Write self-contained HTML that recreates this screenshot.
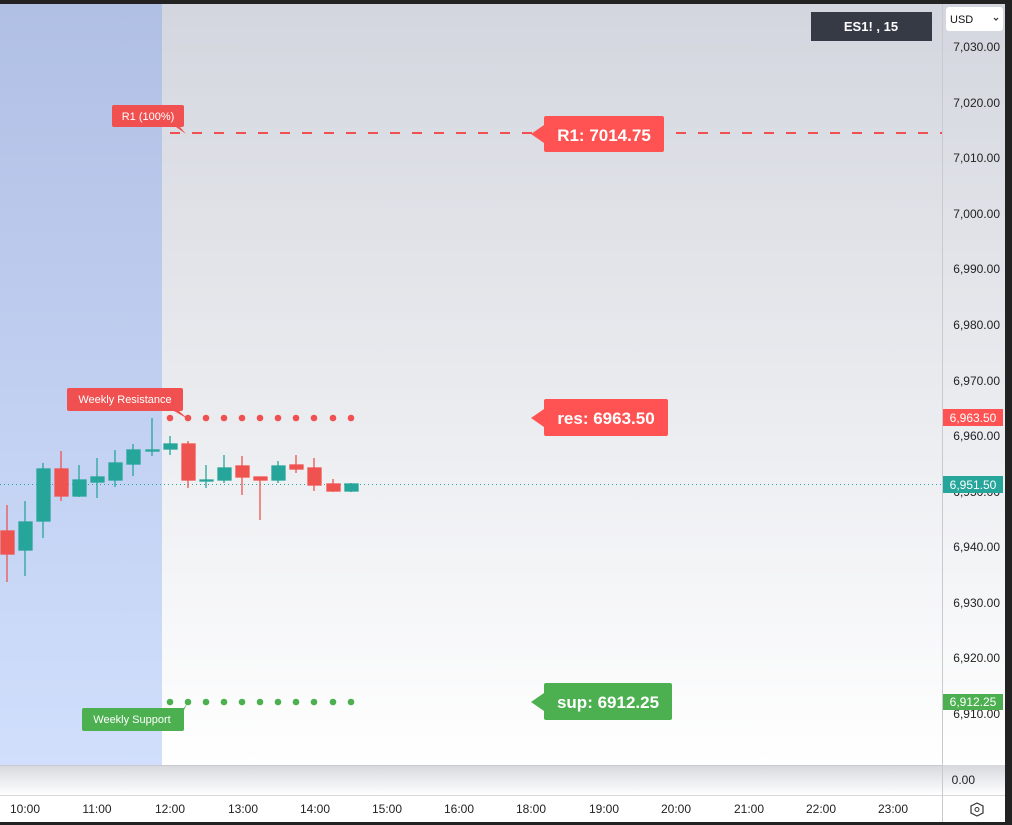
<!DOCTYPE html>
<html><head><meta charset="utf-8"><style>
html,body{margin:0;padding:0;background:#1e1e1e;}
svg{display:block;font-family:"Liberation Sans",sans-serif;}
</style></head><body>
<svg width="1012" height="825" xmlns="http://www.w3.org/2000/svg">
<defs>
<linearGradient id="gb" x1="0" y1="0" x2="0" y2="1"><stop offset="0" stop-color="#b0bfe4"/><stop offset="1" stop-color="#d1dffd"/></linearGradient>
<linearGradient id="gw" x1="0" y1="0" x2="0" y2="1"><stop offset="0" stop-color="#d3d6de"/><stop offset="1" stop-color="#ffffff"/></linearGradient>
<linearGradient id="gs" x1="0" y1="0" x2="0" y2="1"><stop offset="0" stop-color="#d6d8de"/><stop offset="1" stop-color="#ffffff"/></linearGradient>
</defs>
<rect x="0" y="0" width="1012" height="825" fill="#222"/>
<rect x="0" y="4" width="1005" height="818" fill="#fff"/>
<rect x="0" y="4" width="942" height="761" fill="url(#gw)"/>
<rect x="0" y="4" width="162" height="761" fill="url(#gb)"/>
<rect x="942" y="4" width="63" height="761" fill="url(#gw)"/>
<rect x="0" y="765" width="1005" height="30" fill="url(#gs)"/>
<line x1="0" y1="795.5" x2="1005" y2="795.5" stroke="#d8d8dc"/>
<line x1="942.5" y1="4" x2="942.5" y2="822" stroke="#c8cad0"/>
<line x1="0" y1="765.5" x2="942" y2="765.5" stroke="#c8cad0"/>
<!-- price axis labels -->
<g font-size="12" fill="#222" text-anchor="end">
<text x="1000" y="51">7,030.00</text>
<text x="1000" y="107">7,020.00</text>
<text x="1000" y="162">7,010.00</text>
<text x="1000" y="218">7,000.00</text>
<text x="1000" y="273">6,990.00</text>
<text x="1000" y="329">6,980.00</text>
<text x="1000" y="385">6,970.00</text>
<text x="1000" y="440">6,960.00</text>
<text x="1000" y="496">6,950.00</text>
<text x="1000" y="551">6,940.00</text>
<text x="1000" y="607">6,930.00</text>
<text x="1000" y="662">6,920.00</text>
<text x="1000" y="718">6,910.00</text>
<text x="975" y="784">0.00</text>
</g>
<!-- time axis -->
<g font-size="12" fill="#222" text-anchor="middle">
<text x="25" y="813">10:00</text><text x="97" y="813">11:00</text><text x="170" y="813">12:00</text>
<text x="243" y="813">13:00</text><text x="315" y="813">14:00</text><text x="387" y="813">15:00</text>
<text x="459" y="813">16:00</text><text x="531" y="813">18:00</text><text x="604" y="813">19:00</text>
<text x="676" y="813">20:00</text><text x="749" y="813">21:00</text><text x="821" y="813">22:00</text>
<text x="893" y="813">23:00</text>
</g>
<polygon points="977,803 983,806 983,813 977,816 971,813 971,806" fill="none" stroke="#333" stroke-width="1.2"/>
<circle cx="977" cy="809.5" r="2" fill="none" stroke="#333"/>
<!-- current price line -->
<line x1="0" y1="484.5" x2="942" y2="484.5" stroke="#26a69a" stroke-dasharray="1,3"/>
<!-- R1 dashed -->
<line x1="170" y1="133" x2="942" y2="133" stroke="#f05050" stroke-width="2" stroke-dasharray="10,12"/>
<!-- candles -->
<g stroke-width="1.3">
<g stroke="#ef5350" fill="#ef5350"><line x1="7" y1="505" x2="7" y2="582"/><rect x="1" y="531" width="13" height="23"/></g>
<g stroke="#26a69a" fill="#26a69a"><line x1="25" y1="501" x2="25" y2="576"/><rect x="19" y="522" width="13" height="28"/></g>
<g stroke="#26a69a" fill="#26a69a"><line x1="43" y1="463" x2="43" y2="538"/><rect x="37" y="469" width="13" height="52"/></g>
<g stroke="#ef5350" fill="#ef5350"><line x1="61" y1="451" x2="61" y2="501"/><rect x="55" y="469" width="13" height="27"/></g>
<g stroke="#26a69a" fill="#26a69a"><line x1="79" y1="465" x2="79" y2="497"/><rect x="73" y="480" width="13" height="16"/></g>
<g stroke="#26a69a" fill="#26a69a"><line x1="97" y1="458" x2="97" y2="498"/><rect x="91" y="477" width="13" height="5"/></g>
<g stroke="#26a69a" fill="#26a69a"><line x1="115" y1="450" x2="115" y2="487"/><rect x="109" y="463" width="13" height="17"/></g>
<g stroke="#26a69a" fill="#26a69a"><line x1="133" y1="444" x2="133" y2="476"/><rect x="127" y="450" width="13" height="14"/></g>
<g stroke="#26a69a" fill="#26a69a"><line x1="152" y1="418" x2="152" y2="456"/><rect x="146" y="450" width="13" height="1"/></g>
<g stroke="#26a69a" fill="#26a69a"><line x1="170" y1="436" x2="170" y2="455"/><rect x="164" y="444" width="13" height="5"/></g>
<g stroke="#ef5350" fill="#ef5350"><line x1="188" y1="441" x2="188" y2="488"/><rect x="182" y="444" width="13" height="36"/></g>
<g stroke="#26a69a" fill="#26a69a"><line x1="206" y1="465" x2="206" y2="488"/><rect x="200" y="480" width="13" height="1"/></g>
<g stroke="#26a69a" fill="#26a69a"><line x1="224" y1="455" x2="224" y2="483"/><rect x="218" y="468" width="13" height="12"/></g>
<g stroke="#ef5350" fill="#ef5350"><line x1="242" y1="456" x2="242" y2="495"/><rect x="236" y="466" width="13" height="11"/></g>
<g stroke="#ef5350" fill="#ef5350"><line x1="260" y1="477" x2="260" y2="520"/><rect x="254" y="477" width="13" height="3"/></g>
<g stroke="#26a69a" fill="#26a69a"><line x1="278" y1="461" x2="278" y2="483"/><rect x="272" y="466" width="13" height="14"/></g>
<g stroke="#ef5350" fill="#ef5350"><line x1="296" y1="455" x2="296" y2="473"/><rect x="290" y="465" width="13" height="4"/></g>
<g stroke="#ef5350" fill="#ef5350"><line x1="314" y1="458" x2="314" y2="491"/><rect x="308" y="468" width="13" height="17"/></g>
<g stroke="#ef5350" fill="#ef5350"><line x1="333" y1="479" x2="333" y2="492"/><rect x="327" y="484" width="13" height="7"/></g>
<g stroke="#26a69a" fill="#26a69a"><line x1="351" y1="483" x2="351" y2="492"/><rect x="345" y="484" width="13" height="7"/></g>
</g>
<!-- dots -->
<g fill="#f05050">
<circle cx="170" cy="418" r="3.3"/><circle cx="188" cy="418" r="3.3"/><circle cx="206" cy="418" r="3.3"/><circle cx="224" cy="418" r="3.3"/><circle cx="242" cy="418" r="3.3"/><circle cx="260" cy="418" r="3.3"/><circle cx="278" cy="418" r="3.3"/><circle cx="296" cy="418" r="3.3"/><circle cx="314" cy="418" r="3.3"/><circle cx="333" cy="418" r="3.3"/><circle cx="351" cy="418" r="3.3"/>
</g>
<g fill="#4caf50">
<circle cx="170" cy="702" r="3.3"/><circle cx="188" cy="702" r="3.3"/><circle cx="206" cy="702" r="3.3"/><circle cx="224" cy="702" r="3.3"/><circle cx="242" cy="702" r="3.3"/><circle cx="260" cy="702" r="3.3"/><circle cx="278" cy="702" r="3.3"/><circle cx="296" cy="702" r="3.3"/><circle cx="314" cy="702" r="3.3"/><circle cx="333" cy="702" r="3.3"/><circle cx="351" cy="702" r="3.3"/>
</g>
<!-- small labels -->
<path d="M114,105 H182 Q184,105 184,107 V125 Q184,127 182,127 L176,127 L186,134 L180,127 H114 Q112,127 112,125 V107 Q112,105 114,105Z" fill="#f05050"/>
<text x="148" y="120" font-size="11" fill="#fff" text-anchor="middle">R1 (100%)</text>
<path d="M69,388 H181 Q183,388 183,390 V409 Q183,411 181,411 L174,411 L188,419 L179,411 H69 Q67,411 67,409 V390 Q67,388 69,388Z" fill="#f05050"/>
<text x="125" y="403" font-size="11" fill="#fff" text-anchor="middle">Weekly Resistance</text>
<path d="M84,708 H184 L188,702 L184,710 V729 Q184,731 182,731 H84 Q82,731 82,729 V710 Q82,708 84,708Z" fill="#4caf50"/>
<text x="132" y="723" font-size="11" fill="#fff" text-anchor="middle">Weekly Support</text>
<!-- big labels -->
<path d="M546,116 H662 Q664,116 664,118 V150 Q664,152 662,152 H546 Q544,152 544,150 V143 L531,134 L544,125 V118 Q544,116 546,116Z" fill="#ff5252"/>
<text x="604" y="141" font-size="17" font-weight="bold" fill="#fff" text-anchor="middle">R1: 7014.75</text>
<path d="M546,399 H666 Q668,399 668,401 V434 Q668,436 666,436 H546 Q544,436 544,434 V427 L531,418 L544,409 V401 Q544,399 546,399Z" fill="#ff5252"/>
<text x="606" y="424" font-size="17" font-weight="bold" fill="#fff" text-anchor="middle">res: 6963.50</text>
<path d="M546,683 H670 Q672,683 672,685 V718 Q672,720 670,720 H546 Q544,720 544,718 V711 L531,702 L544,693 V685 Q544,683 546,683Z" fill="#4caf50"/>
<text x="608" y="708" font-size="17" font-weight="bold" fill="#fff" text-anchor="middle">sup: 6912.25</text>
<!-- price tags -->
<rect x="943" y="409" width="60" height="17" fill="#ff5252"/>
<text x="973" y="422" font-size="12" fill="#fff" text-anchor="middle">6,963.50</text>
<rect x="943" y="476" width="60" height="17" fill="#26a69a"/>
<text x="973" y="489" font-size="12" fill="#fff" text-anchor="middle">6,951.50</text>
<rect x="943" y="694" width="60" height="16" fill="#4caf50"/>
<text x="973" y="706" font-size="12" fill="#fff" text-anchor="middle">6,912.25</text>
<!-- top widgets -->
<rect x="811" y="12" width="121" height="29" fill="#363a45"/>
<text x="871" y="31" font-size="13" font-weight="bold" fill="#fff" text-anchor="middle">ES1! , 15</text>
<rect x="946" y="7" width="57" height="24" rx="3" fill="#fff"/>
<text x="950" y="23" font-size="11" fill="#111">USD</text>
<path d="M994,18 L996,20 L998,18" fill="none" stroke="#333" stroke-width="1.2"/>
</svg>
</body></html>
